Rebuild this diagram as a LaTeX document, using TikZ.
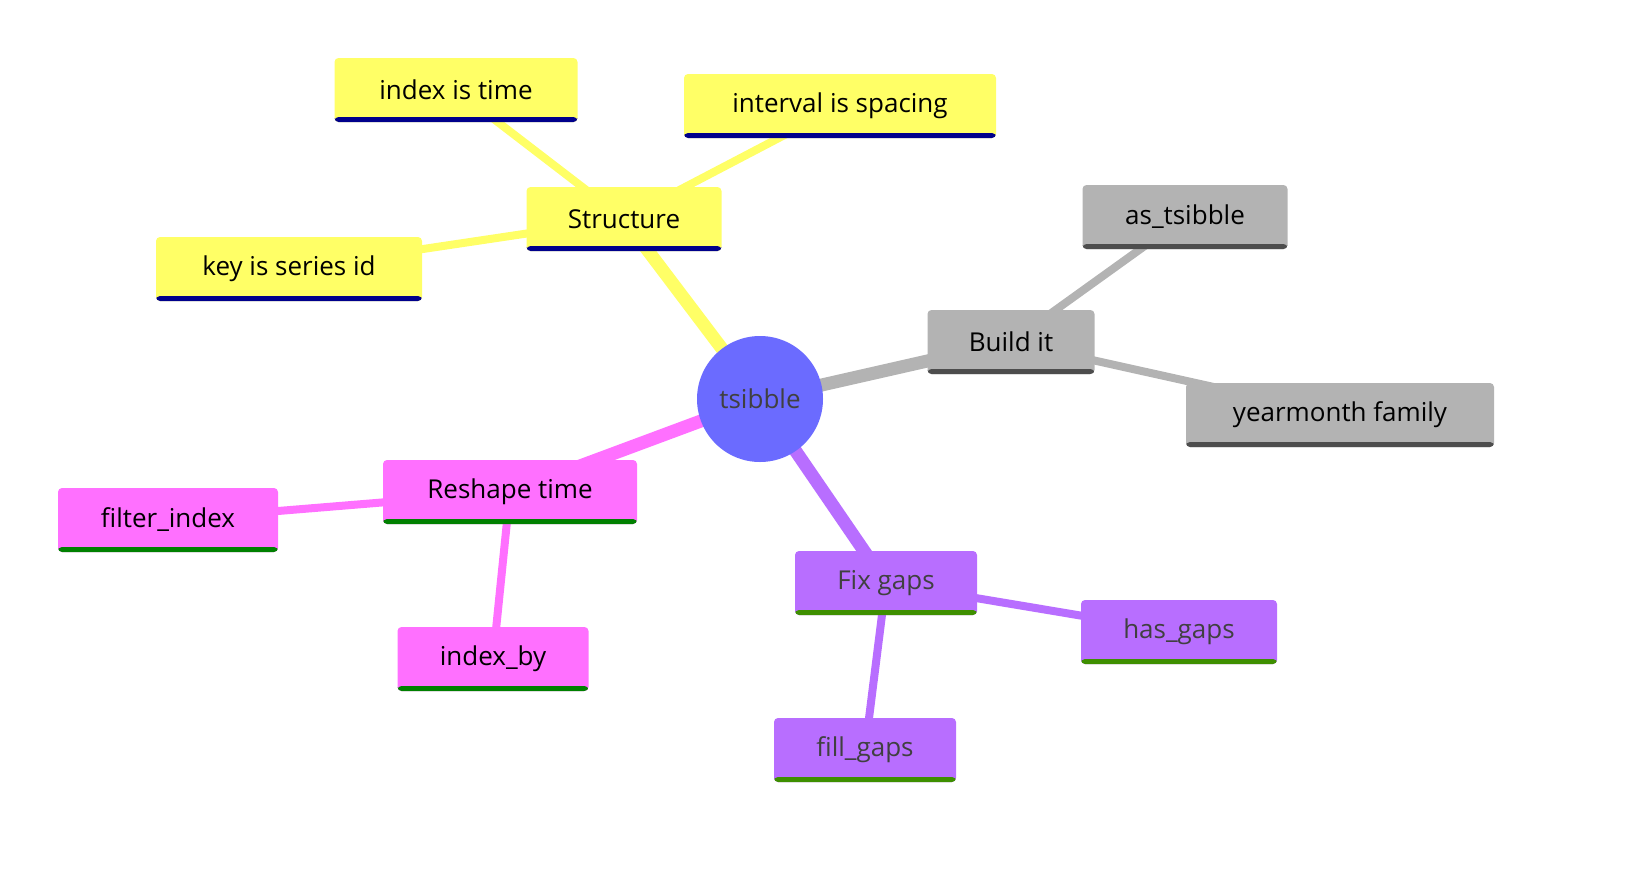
\documentclass[tikz,border=0pt]{standalone}
\usepackage{fontspec}
\setmainfont{Open Sans}
\usetikzlibrary{backgrounds}
\definecolor{ylw}{HTML}{FFFF66}
\definecolor{gry}{HTML}{B3B3B3}
\definecolor{pnk}{HTML}{FF70FF}
\definecolor{prp}{HTML}{B86EFF}
\definecolor{hub}{HTML}{6B6BFF}
\definecolor{navy}{HTML}{00008B}
\definecolor{dgry}{HTML}{4D4D4D}
\definecolor{grn}{HTML}{008000}
\definecolor{lgrn}{HTML}{3E8F00}
\tikzset{
    topic/.style 2 args={
    rectangle,rounded corners=4pt,fill=#1,minimum height=64pt,inner xsep=0pt,
    font=\fontsize{26}{30}\selectfont,
    path picture={\fill[#2] ([yshift=5pt]path picture bounding box.south west) rectangle (path picture bounding box.south east);}
    },
    trunk/.style={line width=13pt,draw=#1},
    twig/.style={line width=8pt,draw=#1},
}
\begin{document}
\begin{tikzpicture}[x=1pt,y=-1pt]
  \useasboundingbox (0,0) rectangle (1636,884);
  \node[circle,fill=hub,minimum size=126pt,text=black!75,font=\fontsize{26}{30}\selectfont] (root) at (760,399) {tsibble};
  % yellow branch
  \node[topic={ylw}{navy},minimum width=195pt] (struct) at (624,219) {Structure};
  \node[topic={ylw}{navy},minimum width=243pt] (idx) at (456,90) {index is time};
  \node[topic={ylw}{navy},minimum width=312pt] (intv) at (840,106) {interval is spacing};
  \node[topic={ylw}{navy},minimum width=266pt] (key) at (289,269) {key is series id};
  % grey branch
  \node[topic={gry}{dgry},minimum width=167pt] (build) at (1011,342) {Build it};
  \node[topic={gry}{dgry},minimum width=205pt] (ast) at (1185,217) {as\_tsibble};
  \node[topic={gry}{dgry},minimum width=308pt] (ym) at (1340,415) {yearmonth family};
  % pink branch
  \node[topic={pnk}{grn},minimum width=254pt] (reshape) at (510,492) {Reshape time};
  \node[topic={pnk}{grn},minimum width=220pt] (filt) at (168,520) {filter\_index};
  \node[topic={pnk}{grn},minimum width=191pt] (iby) at (493,659) {index\_by};
  % purple branch
  \node[topic={prp}{lgrn},minimum width=182pt,text=black!75] (fix) at (886,583) {Fix gaps};
  \node[topic={prp}{lgrn},minimum width=196pt,text=black!75] (has) at (1179,632) {has\_gaps};
  \node[topic={prp}{lgrn},minimum width=182pt,text=black!75] (fill) at (865,750) {fill\_gaps};
  \begin{scope}[on background layer]
    \draw[trunk=ylw] (root.center) -- (struct.center);
    \draw[twig=ylw] (struct.center) -- (idx.center);
    \draw[twig=ylw] (struct.center) -- (intv.center);
    \draw[twig=ylw] (struct.center) -- (key.center);
    \draw[trunk=gry] (root.center) -- (build.center);
    \draw[twig=gry] (build.center) -- (ast.center);
    \draw[twig=gry] (build.center) -- (ym.center);
    \draw[trunk=pnk] (root.center) -- (reshape.center);
    \draw[twig=pnk] (reshape.center) -- (filt.center);
    \draw[twig=pnk] (reshape.center) -- (iby.center);
    \draw[trunk=prp] (root.center) -- (fix.center);
    \draw[twig=prp] (fix.center) -- (has.center);
    \draw[twig=prp] (fix.center) -- (fill.center);
  \end{scope}
\end{tikzpicture}
\end{document}
